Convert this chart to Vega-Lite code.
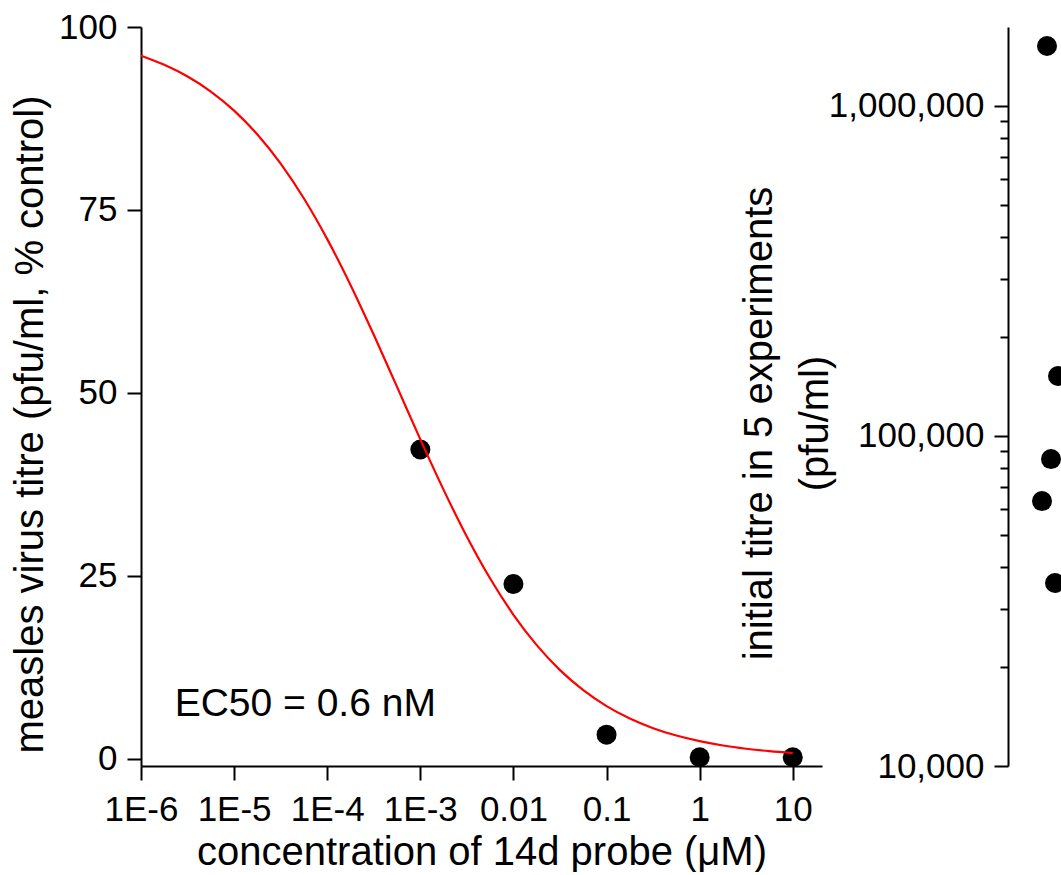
{
  "$schema": "https://vega.github.io/schema/vega-lite/v6.json",
  "padding": {"left": 10, "top": 10, "right": 0, "bottom": 0},
  "background": "white",
  "bounds": "flush",
  "spacing": 186,
  "config": {
    "view": {"stroke": null},
    "font": "Liberation Sans",
    "axis": {
      "grid": false,
      "domainColor": "black",
      "domainWidth": 2,
      "tickColor": "black",
      "tickWidth": 2,
      "tickSize": 14,
      "labelColor": "black",
      "labelFont": "Liberation Sans",
      "labelFontSize": 35,
      "labelPadding": 10,
      "titleColor": "black",
      "titleFont": "Liberation Sans",
      "titleFontSize": 40,
      "titleFontWeight": "normal"
    }
  },
  "datasets": {
    "curve": [
      {"conc": 0.000001, "pct": 96.08},
      {"conc": 0.0000017783, "pct": 94.83},
      {"conc": 0.0000031623, "pct": 93.23},
      {"conc": 0.0000056234, "pct": 91.18},
      {"conc": 0.00001, "pct": 88.57},
      {"conc": 0.000017783, "pct": 85.31},
      {"conc": 0.000031623, "pct": 81.33},
      {"conc": 0.000056234, "pct": 76.56},
      {"conc": 0.0001, "pct": 71.01},
      {"conc": 0.00017783, "pct": 64.75},
      {"conc": 0.00031623, "pct": 57.93},
      {"conc": 0.00056234, "pct": 50.81},
      {"conc": 0.001, "pct": 43.64},
      {"conc": 0.0017783, "pct": 36.74},
      {"conc": 0.0031623, "pct": 30.34},
      {"conc": 0.0056234, "pct": 24.62},
      {"conc": 0.01, "pct": 19.67},
      {"conc": 0.017783, "pct": 15.52},
      {"conc": 0.031623, "pct": 12.10},
      {"conc": 0.056234, "pct": 9.36},
      {"conc": 0.1, "pct": 7.19},
      {"conc": 0.17783, "pct": 5.49},
      {"conc": 0.31623, "pct": 4.17},
      {"conc": 0.56234, "pct": 3.16},
      {"conc": 1, "pct": 2.39},
      {"conc": 1.7783, "pct": 1.80},
      {"conc": 3.1623, "pct": 1.36},
      {"conc": 5.6234, "pct": 1.02},
      {"conc": 10, "pct": 0.77}
    ],
    "measured": [
      {"conc": 0.001, "pct": 42.26},
      {"conc": 0.01, "pct": 23.88},
      {"conc": 0.1, "pct": 3.28},
      {"conc": 1, "pct": 0.19},
      {"conc": 10, "pct": 0.19}
    ],
    "label": [
      {"conc": 0.0000023, "pct": 5.84, "text": "EC50 = 0.6 nM"}
    ],
    "titres": [
      {"lane": 39, "titre": 1520000},
      {"lane": 50, "titre": 152000},
      {"lane": 43, "titre": 85100},
      {"lane": 34, "titre": 63500},
      {"lane": 47, "titre": 35850}
    ]
  },
  "hconcat": [
    {
      "width": 681,
      "height": 739,
      "layer": [
        {
          "data": {"name": "measured"},
          "mark": {"type": "point", "filled": true, "shape": "circle", "size": 400, "color": "black", "opacity": 1},
          "encoding": {
            "x": {
              "field": "conc", "type": "quantitative",
              "scale": {"type": "log", "domain": [0.000001, 20.6], "nice": false},
              "axis": {
                "title": "concentration of 14d probe (μM)",
                "values": [0.000001, 0.00001, 0.0001, 0.001, 0.01, 0.1, 1, 10],
                "labelExpr": "datum.value < 0.000002 ? '1E-6' : datum.value < 0.00002 ? '1E-5' : datum.value < 0.0002 ? '1E-4' : datum.value < 0.002 ? '1E-3' : datum.value < 0.02 ? '0.01' : datum.value < 0.2 ? '0.1' : datum.value < 2 ? '1' : '10'",
                "labelPadding": 12,
                "labelFlush": false,
                "labelOverlap": false,
                "titleY": 66
              }
            },
            "y": {
              "field": "pct", "type": "quantitative",
              "scale": {"domain": [-1, 100], "nice": false, "zero": false},
              "axis": {
                "title": "measles virus titre (pfu/ml, % control)",
                "values": [0, 25, 50, 75, 100],
                "labelFlush": false,
                "labelOverlap": false,
                "titleX": -91,
                "titleY": 397
              }
            }
          }
        },
        {
          "data": {"name": "curve"},
          "mark": {"type": "line", "color": "#ff0000", "strokeWidth": 2.2, "interpolate": "monotone"},
          "encoding": {
            "x": {"field": "conc", "type": "quantitative"},
            "y": {"field": "pct", "type": "quantitative"}
          }
        },
        {
          "data": {"name": "label"},
          "mark": {"type": "text", "align": "left", "baseline": "alphabetic", "fontSize": 39, "font": "Liberation Sans", "color": "black"},
          "encoding": {
            "x": {"field": "conc", "type": "quantitative"},
            "y": {"field": "pct", "type": "quantitative"},
            "text": {"field": "text"}
          }
        }
      ]
    },
    {
      "width": 53,
      "height": 739,
      "data": {"name": "titres"},
      "resolve": {"scale": {"y": "independent"}, "axis": {"y": "independent"}},
      "layer": [
        {
          "mark": {"type": "point", "filled": true, "shape": "circle", "size": 400, "color": "black", "opacity": 0},
          "encoding": {
            "x": {
              "field": "lane", "type": "quantitative",
              "scale": {"domain": [0, 53], "nice": false, "zero": false},
              "axis": null
            },
            "y": {
              "field": "titre", "type": "quantitative",
              "scale": {"type": "log", "domain": [10000, 1735000], "nice": false},
              "axis": {
                "orient": "left",
                "title": null,
                "values": [20000, 30000, 40000, 50000, 60000, 70000, 80000, 90000, 200000, 300000, 400000, 500000, 600000, 700000, 800000, 900000],
                "labels": false,
                "domain": false,
                "tickSize": 8
              }
            }
          }
        },
        {
          "mark": {"type": "point", "filled": true, "shape": "circle", "size": 400, "color": "black", "opacity": 1, "clip": true},
          "encoding": {
            "x": {
              "field": "lane", "type": "quantitative",
              "scale": {"domain": [0, 53], "nice": false, "zero": false},
              "axis": null
            },
            "y": {
              "field": "titre", "type": "quantitative",
              "scale": {"type": "log", "domain": [10000, 1735000], "nice": false},
              "axis": {
                "orient": "left",
                "title": ["initial titre in 5 experiments", "(pfu/ml)"],
                "titleLineHeight": 56,
                "values": [10000, 100000, 1000000],
                "format": ",",
                "tickSize": 14,
                "labelFlush": false,
                "labelOverlap": false,
                "titleX": -229,
                "titleY": 396
              }
            }
          }
        }
      ]
    }
  ]
}
